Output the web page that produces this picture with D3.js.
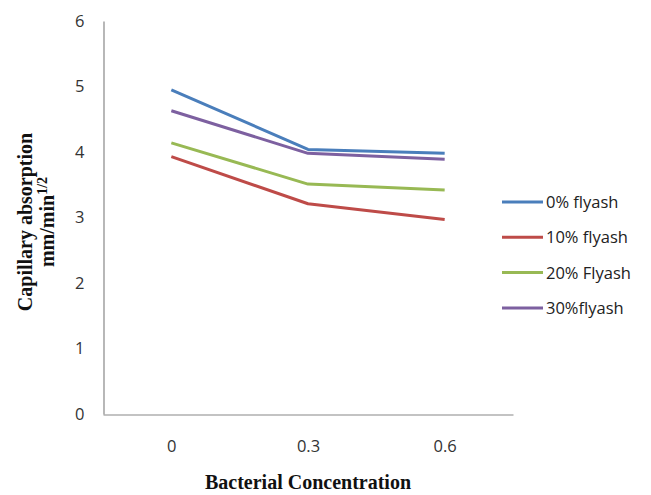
<!DOCTYPE html>
<html>
<head>
<meta charset="utf-8">
<script src="https://cdn.jsdelivr.net/npm/d3@7"></script>
<style>
  body { margin: 0; background: #fff; }
  .tick-label { font-family: "Open Sans", "Noto Sans", sans-serif; font-size: 16.5px; fill: #333; }
  .axis-title { font-family: "Liberation Serif", "DejaVu Serif", serif; font-weight: bold; font-size: 20px; fill: #111; }
  .legend-text { font-family: "Open Sans", "Noto Sans", sans-serif; font-size: 16.5px; fill: #222; }
</style>
</head>
<body>
<div id="chart"></div>
<script>
// Data
const categories = ['0', '0.3', '0.6'];
const seriesNames = ['0% flyash', '10% flyash', '20% Flyash', '30%flyash'];
const seriesColors = ['#4a7ebb', '#be4b48', '#98b954', '#7d60a0'];
const flyash0 = [4.95, 4.04, 3.98];
const flyash10 = [3.93, 3.21, 2.97];
const flyash20 = [4.14, 3.51, 3.42];
const flyash30 = [4.63, 3.98, 3.89];
const yTicks = [0, 1, 2, 3, 4, 5, 6];

const series = [flyash0, flyash10, flyash20, flyash30].map((values, i) => ({
    name: seriesNames[i],
    color: seriesColors[i],
    values: values
}));

const svg = d3.select('#chart')
    .append('svg')
    .attr('width', 651)
    .attr('height', 495);

// Scales
const xScale = d3.scalePoint()
    .domain(categories)
    .range([103, 513])
    .padding(0.5);

const yScale = d3.scaleLinear()
    .domain([0, 6])
    .range([414, 21]);

// Y axis
const yAxis = d3.axisLeft(yScale)
    .tickValues(yTicks)
    .tickSize(0)
    .tickPadding(19)
    .tickFormat(d3.format('d'));

const yg = svg.append('g')
    .attr('transform', 'translate(103.5, 0)')
    .call(yAxis);
yg.select('.domain').attr('stroke', '#888').attr('stroke-width', 1.2);
yg.selectAll('text').attr('class', 'tick-label').attr('fill', null);

// X axis
const xAxis = d3.axisBottom(xScale)
    .tickSize(0)
    .tickPadding(26);

const xg = svg.append('g')
    .attr('transform', `translate(0, ${yScale(0) + 0.5})`)
    .call(xAxis);
xg.select('.domain').attr('stroke', '#888').attr('stroke-width', 1.2);
xg.selectAll('text').attr('class', 'tick-label').attr('fill', null);

// Axis titles
svg.append('text')
    .attr('class', 'axis-title')
    .attr('x', 308)
    .attr('y', 489)
    .attr('text-anchor', 'middle')
    .text('Bacterial Concentration');

const yTitle = svg.append('text')
    .attr('class', 'axis-title')
    .attr('transform', 'translate(32, 222) rotate(-90)')
    .attr('text-anchor', 'middle');
yTitle.append('tspan')
    .attr('x', 0)
    .attr('y', 0)
    .text('Capillary absorption');
yTitle.append('tspan')
    .attr('x', 0)
    .attr('y', 22)
    .text('mm/min');
yTitle.append('tspan')
    .attr('dy', -7)
    .attr('font-size', 14)
    .text('1/2');

// Lines
const line = d3.line()
    .x((d, i) => xScale(categories[i]))
    .y(d => yScale(d));

svg.selectAll('.series')
    .data(series)
    .enter()
    .append('path')
    .attr('class', 'series')
    .attr('d', d => line(d.values))
    .attr('fill', 'none')
    .attr('stroke', d => d.color)
    .attr('stroke-width', 3)
    .attr('stroke-linejoin', 'round');

// Legend
const legend = svg.selectAll('.legend-group')
    .data(series)
    .enter()
    .append('g')
    .attr('class', 'legend-group')
    .attr('transform', (d, i) => `translate(502, ${202 + i * 35.3})`);

legend.append('line')
    .attr('x1', 0)
    .attr('x2', 41)
    .attr('stroke', d => d.color)
    .attr('stroke-width', 3);

legend.append('text')
    .attr('class', 'legend-text')
    .attr('x', 44)
    .attr('y', 6)
    .text(d => d.name);
</script>
</body>
</html>
